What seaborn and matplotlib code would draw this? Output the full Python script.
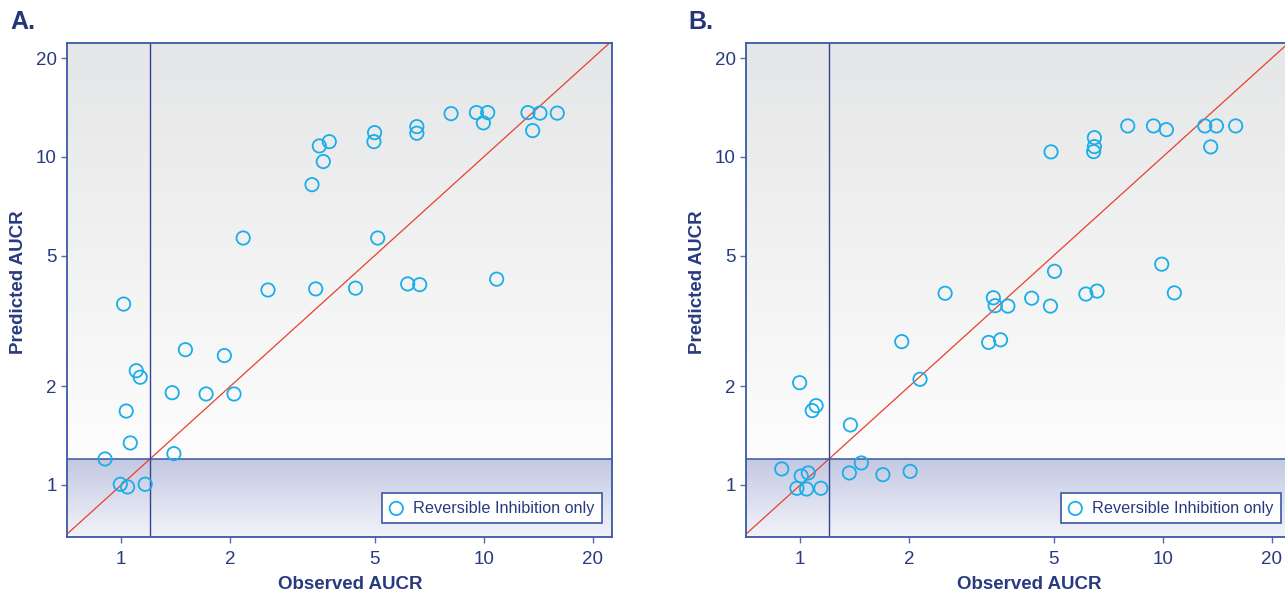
import numpy as np
import matplotlib
matplotlib.use("Agg")
import matplotlib.pyplot as plt
import matplotlib.colors as mcolors
import seaborn as sns
import pandas as pd

# ---- data ----
A_obs = [1.015, 1.10, 1.128, 1.032, 1.059, 0.902, 0.994, 1.041, 1.164, 1.503,
         1.925, 1.382, 1.714, 2.047, 1.397, 2.17, 2.54, 3.52, 3.75, 3.61,
         3.36, 5.0, 4.98, 6.54, 6.54, 8.13, 9.55, 10.26, 9.98, 13.25,
         14.3, 15.96, 13.65, 5.1, 3.44, 4.43, 6.17, 6.66, 10.86]
A_pred = [3.56, 2.23, 2.13, 1.68, 1.343, 1.20, 1.005, 0.986, 1.005, 2.585,
          2.48, 1.911, 1.894, 1.894, 1.246, 5.66, 3.93, 10.8, 11.13, 9.68,
          8.23, 11.86, 11.13, 12.37, 11.81, 13.55, 13.65, 13.65, 12.7, 13.65,
          13.6, 13.6, 12.03, 5.66, 3.96, 3.98, 4.10, 4.08, 4.24]
B_obs = [0.996, 1.106, 1.079, 1.375, 1.906, 2.14, 2.51, 3.41, 3.45, 3.31,
         3.57, 0.889, 1.006, 1.052, 0.979, 1.041, 1.14, 1.366, 1.474, 1.69,
         2.01, 4.92, 6.48, 6.48, 6.45, 8.01, 9.43, 10.24, 13.07, 14.07,
         15.9, 13.57, 5.03, 9.94, 10.77, 3.74, 4.35, 4.90, 6.14, 6.59]
B_pred = [2.05, 1.745, 1.685, 1.524, 2.735, 2.10, 3.84, 3.72, 3.52, 2.72,
          2.77, 1.119, 1.065, 1.088, 0.977, 0.972, 0.977, 1.088, 1.167, 1.075,
          1.10, 10.36, 11.45, 10.75, 10.38, 12.43, 12.43, 12.11, 12.43, 12.43,
          12.43, 10.73, 4.48, 4.71, 3.85, 3.51, 3.71, 3.51, 3.82, 3.90]

panel_labels = ["A.", "B."]
tick_values = [1, 2, 5, 10, 20]
tick_labels = ["1", "2", "5", "10", "20"]
threshold = 1.2
xlim = (0.707, 22.6)
ylim = (0.694, 22.2)
legend_label = "Reversible Inhibition only"
xlabel = "Observed AUCR"
ylabel = "Predicted AUCR"

# ---- style ----
sns.set_style("white")
plt.rcParams["font.family"] = ["Liberation Sans", "DejaVu Sans"]

NAVY = "#2a3a80"
SPINE = "#3b58a6"
LINE = "#2f4592"
CYAN = "#1aaee8"
RED = "#e8402f"

fig = plt.figure(figsize=(12.85, 5.93), dpi=100)
W, H = 1285, 593
ax_w = 545.3 / W
ax_h = 493.7 / H
ax_b = (593 - 537) / H
lefts = [66.7 / W, 745.7 / W]


def gradient_image(frac):
    n = 600
    ys = np.linspace(1, 0, n)  # top row -> bottom
    top_c = np.array(mcolors.to_rgb("#e5e6e7"))
    mid_c = np.array(mcolors.to_rgb("#fdfdfd"))
    band_top = np.array(mcolors.to_rgb("#c3c8e2"))
    band_bot = np.array(mcolors.to_rgb("#f2f3f9"))
    img = np.zeros((n, 1, 3))
    for i, y in enumerate(ys):
        if y >= frac:
            t = (1 - y) / (1 - frac)
            c = top_c * (1 - t) + mid_c * t
        else:
            t = (frac - y) / frac
            c = band_top * (1 - t) + band_bot * t
        img[i, 0] = c
    return img


for k, (obs, pred) in enumerate([(A_obs, A_pred), (B_obs, B_pred)]):
    ax = fig.add_axes([lefts[k], ax_b, ax_w, ax_h])
    ax.set_xscale("log")
    ax.set_yscale("log")
    frac = (np.log10(threshold) - np.log10(ylim[0])) / (np.log10(ylim[1]) - np.log10(ylim[0]))
    ax.imshow(gradient_image(frac), extent=[0, 1, 0, 1], transform=ax.transAxes,
              aspect="auto", zorder=0, interpolation="bilinear")

    df = pd.DataFrame({"obs": obs, "pred": pred, "group": legend_label})
    ax.plot(xlim, xlim, color=RED, lw=0.9, zorder=2)
    ax.axvline(threshold, color=LINE, lw=1.0, zorder=2)
    ax.axhline(threshold, color=SPINE, lw=1.1, zorder=2)
    sns.scatterplot(data=df, x="obs", y="pred", ax=ax, marker="o", s=92,
                    fc="none", ec=CYAN, linewidth=1.3, label=legend_label, zorder=3)

    ax.set_xlim(*xlim)
    ax.set_ylim(*ylim)
    ax.set_xticks(tick_values)
    ax.set_xticklabels(tick_labels)
    ax.set_yticks(tick_values)
    ax.set_yticklabels(tick_labels)
    ax.minorticks_off()
    ax.tick_params(axis="both", which="major", direction="out", length=4,
                   width=1.0, color="#5a6aa8", labelcolor=NAVY, labelsize=13.5,
                   left=True, bottom=True)
    ax.tick_params(axis="x", pad=6)
    ax.tick_params(axis="y", pad=3)
    for side in ["left", "bottom", "top", "right"]:
        ax.spines[side].set_visible(True)
        ax.spines[side].set_color(SPINE)
        ax.spines[side].set_linewidth(1.3)
    ax.set_xlabel("")
    ax.set_ylabel("")
    ax.text(0.5195, -0.097, xlabel, transform=ax.transAxes, ha="center", va="center",
            fontsize=13.5, fontweight="bold", color=NAVY)
    ax.text(-0.0893, 0.5165, ylabel, transform=ax.transAxes, ha="center", va="center",
            rotation=90, fontsize=13.5, fontweight="bold", color=NAVY)

    leg = ax.legend(loc="lower right", bbox_to_anchor=(0.9817, 0.0284),
                    borderaxespad=0, frameon=True, fancybox=False, framealpha=1,
                    edgecolor=SPINE, facecolor="white", fontsize=11.7,
                    handletextpad=0.6, borderpad=0.45, handlelength=0.9)
    leg.get_frame().set_linewidth(1.2)
    for t in leg.get_texts():
        t.set_color(NAVY)

    fig.text([10 / W, 688 / W][k], 1 - 22 / H, panel_labels[k], ha="left", va="center",
             fontsize=18, fontweight="bold", color="#253575")

fig.savefig("out.png", dpi=100)
